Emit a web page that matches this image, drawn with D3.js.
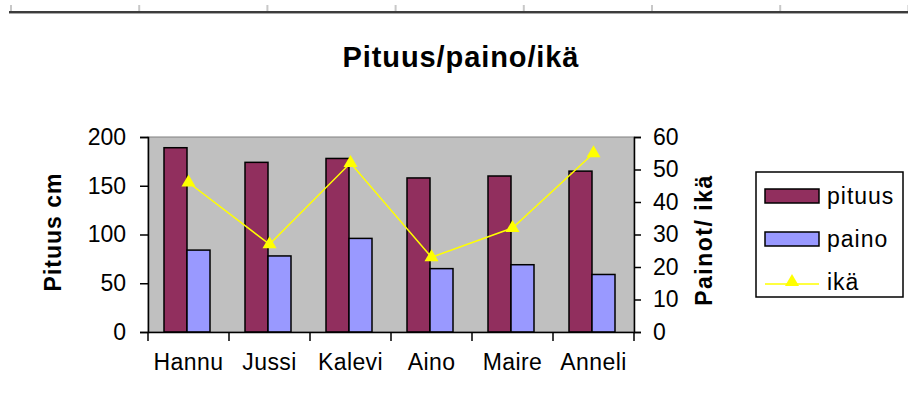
<!DOCTYPE html>
<html>
<head>
<meta charset="utf-8">
<script src="https://cdn.jsdelivr.net/npm/d3@7"></script>
<style>
  body { margin: 0; background: #fff; }
  text { font-family: "Liberation Sans", Arial, sans-serif; fill: #000; }
</style>
</head>
<body>
<div id="chart"></div>
<script>
// data
const names = ["Hannu", "Jussi", "Kalevi", "Aino", "Maire", "Anneli"];
const pituus = [189, 174, 178, 158, 160, 165];
const paino = [84, 78, 96, 65, 69, 59];
const ika = [46, 27, 52, 23, 32, 55];
const leftTicks = [0, 50, 100, 150, 200];
const rightTicks = [0, 10, 20, 30, 40, 50, 60];

const width = 908, height = 416;
const plot = { left: 148, right: 634, top: 137, bottom: 332 };

const svg = d3.select("#chart")
  .append("svg")
  .attr("width", width)
  .attr("height", height);

// spreadsheet-ish header line at the very top
const cols = d3.range(11, 910, 128.2);
svg.selectAll("line.col")
  .data(cols)
  .enter()
  .append("line")
  .attr("x1", d => d).attr("x2", d => d)
  .attr("y1", 5).attr("y2", 11)
  .attr("stroke", "#c8c8c8")
  .attr("stroke-width", 2);
svg.append("line")
  .attr("x1", 9).attr("x2", width)
  .attr("y1", 12).attr("y2", 12)
  .attr("stroke", "#3c3c3c")
  .attr("stroke-width", 2);
svg.append("line")
  .attr("x1", 9).attr("x2", width)
  .attr("y1", 13.5).attr("y2", 13.5)
  .attr("stroke", "#a8a8a8")
  .attr("stroke-width", 1);

// scales
const x = d3.scaleBand().domain(names).range([plot.left, plot.right]);
const xInner = d3.scaleBand().domain(["pituus", "paino"]).range([16, 62]);
const yLeft = d3.scaleLinear().domain([0, 200]).range([plot.bottom, plot.top]);
const yRight = d3.scaleLinear().domain([0, 60]).range([plot.bottom, plot.top]);

const colors = { pituus: "#912f5e", paino: "#9999ff", ika: "#ffff00" };

// plot area
svg.append("rect")
  .attr("x", plot.left).attr("y", plot.top)
  .attr("width", plot.right - plot.left)
  .attr("height", plot.bottom - plot.top)
  .attr("fill", "#c0c0c0")
  .attr("stroke", "#808080")
  .attr("stroke-width", 1);

// bars
const groups = svg.selectAll("g.cat")
  .data(names)
  .enter()
  .append("g")
  .attr("class", "cat")
  .attr("transform", d => `translate(${x(d)},0)`);

groups.append("rect")
  .attr("x", xInner("pituus"))
  .attr("width", xInner.bandwidth())
  .attr("y", (d, i) => yLeft(pituus[i]))
  .attr("height", (d, i) => plot.bottom - yLeft(pituus[i]))
  .attr("fill", colors.pituus)
  .attr("stroke", "#000")
  .attr("stroke-width", 1.5);

groups.append("rect")
  .attr("x", xInner("paino"))
  .attr("width", xInner.bandwidth())
  .attr("y", (d, i) => yLeft(paino[i]))
  .attr("height", (d, i) => plot.bottom - yLeft(paino[i]))
  .attr("fill", colors.paino)
  .attr("stroke", "#000")
  .attr("stroke-width", 1.5);

// ikä line (right axis)
const line = d3.line()
  .x((d, i) => x(names[i]) + x.bandwidth() / 2)
  .y(d => yRight(d));

svg.append("path")
  .datum(ika)
  .attr("d", line)
  .attr("fill", "none")
  .attr("stroke", colors.ika)
  .attr("stroke-width", 1.5);

const tri = d3.symbol().type(d3.symbolTriangle).size(85);
svg.selectAll("path.marker")
  .data(ika)
  .enter()
  .append("path")
  .attr("class", "marker")
  .attr("d", tri)
  .attr("transform", (d, i) => `translate(${x(names[i]) + x.bandwidth() / 2},${yRight(d)})`)
  .attr("fill", colors.ika);

// axes
const axisFont = g => g.selectAll("text")
  .style("font-family", "'Liberation Sans', Arial, sans-serif")
  .style("font-size", "23px")
  .attr("fill", "#000");

const leftAxis = svg.append("g")
  .attr("transform", `translate(${plot.left},0)`)
  .call(d3.axisLeft(yLeft).tickValues(leftTicks).tickSize(8).tickPadding(14))
  .call(axisFont);

const rightAxis = svg.append("g")
  .attr("transform", `translate(${plot.right},0)`)
  .call(d3.axisRight(yRight).tickValues(rightTicks).tickSize(7).tickPadding(12))
  .call(axisFont);

const bottomAxis = svg.append("g")
  .attr("transform", `translate(0,${plot.bottom})`)
  .call(d3.axisBottom(x).tickSize(0).tickPadding(22))
  .call(axisFont);
bottomAxis.selectAll("text").style("letter-spacing", "0.4px");

// category separators on x axis
svg.selectAll("line.xsep")
  .data(names.concat([null]))
  .enter()
  .append("line")
  .attr("x1", (d, i) => plot.left + i * x.bandwidth())
  .attr("x2", (d, i) => plot.left + i * x.bandwidth())
  .attr("y1", plot.bottom).attr("y2", plot.bottom + 9)
  .attr("stroke", "#000")
  .attr("stroke-width", 1.5);

[leftAxis, rightAxis, bottomAxis].forEach(g => {
  g.selectAll("path.domain").attr("stroke", "#000").attr("stroke-width", 1.5);
  g.selectAll(".tick line").attr("stroke", "#000").attr("stroke-width", 1.5);
});

// titles
svg.append("text")
  .attr("x", 461).attr("y", 67)
  .attr("text-anchor", "middle")
  .style("font-size", "29px")
  .style("font-weight", "bold")
  .style("letter-spacing", "0.9px")
  .text("Pituus/paino/ikä");

svg.append("text")
  .attr("transform", "translate(61,232) rotate(-90)")
  .attr("text-anchor", "middle")
  .style("font-size", "23px")
  .style("font-weight", "bold")
  .style("letter-spacing", "1px")
  .text("Pituus cm");

svg.append("text")
  .attr("transform", "translate(712,240) rotate(-90)")
  .attr("text-anchor", "middle")
  .style("font-size", "23px")
  .style("font-weight", "bold")
  .style("letter-spacing", "1.5px")
  .text("Painot/ ikä");

// legend
const legend = svg.append("g").attr("transform", "translate(756,172)");
legend.append("rect")
  .attr("width", 147).attr("height", 125)
  .attr("fill", "#fff")
  .attr("stroke", "#000")
  .attr("stroke-width", 1.5);

const legendItems = [
  { key: "pituus", label: "pituus", type: "bar" },
  { key: "paino", label: "paino", type: "bar" },
  { key: "ika", label: "ikä", type: "line" }
];

const li = legend.selectAll("g.item")
  .data(legendItems)
  .enter()
  .append("g")
  .attr("class", "item")
  .attr("transform", (d, i) => `translate(0,${24 + i * 43})`);

li.filter(d => d.type === "bar")
  .append("rect")
  .attr("x", 9).attr("y", -7)
  .attr("width", 54).attr("height", 14)
  .attr("fill", d => colors[d.key])
  .attr("stroke", "#000")
  .attr("stroke-width", 1.5);

li.filter(d => d.type === "line")
  .append("line")
  .attr("x1", 9).attr("x2", 63)
  .attr("y1", 2).attr("y2", 2)
  .attr("stroke", colors.ika)
  .attr("stroke-width", 1.5);

li.filter(d => d.type === "line")
  .append("path")
  .attr("d", tri)
  .attr("transform", "translate(36,0)")
  .attr("fill", colors.ika);

li.append("text")
  .attr("x", 71).attr("y", 8)
  .style("font-size", "23px")
  .style("letter-spacing", "1px")
  .text(d => d.label);
</script>
</body>
</html>
